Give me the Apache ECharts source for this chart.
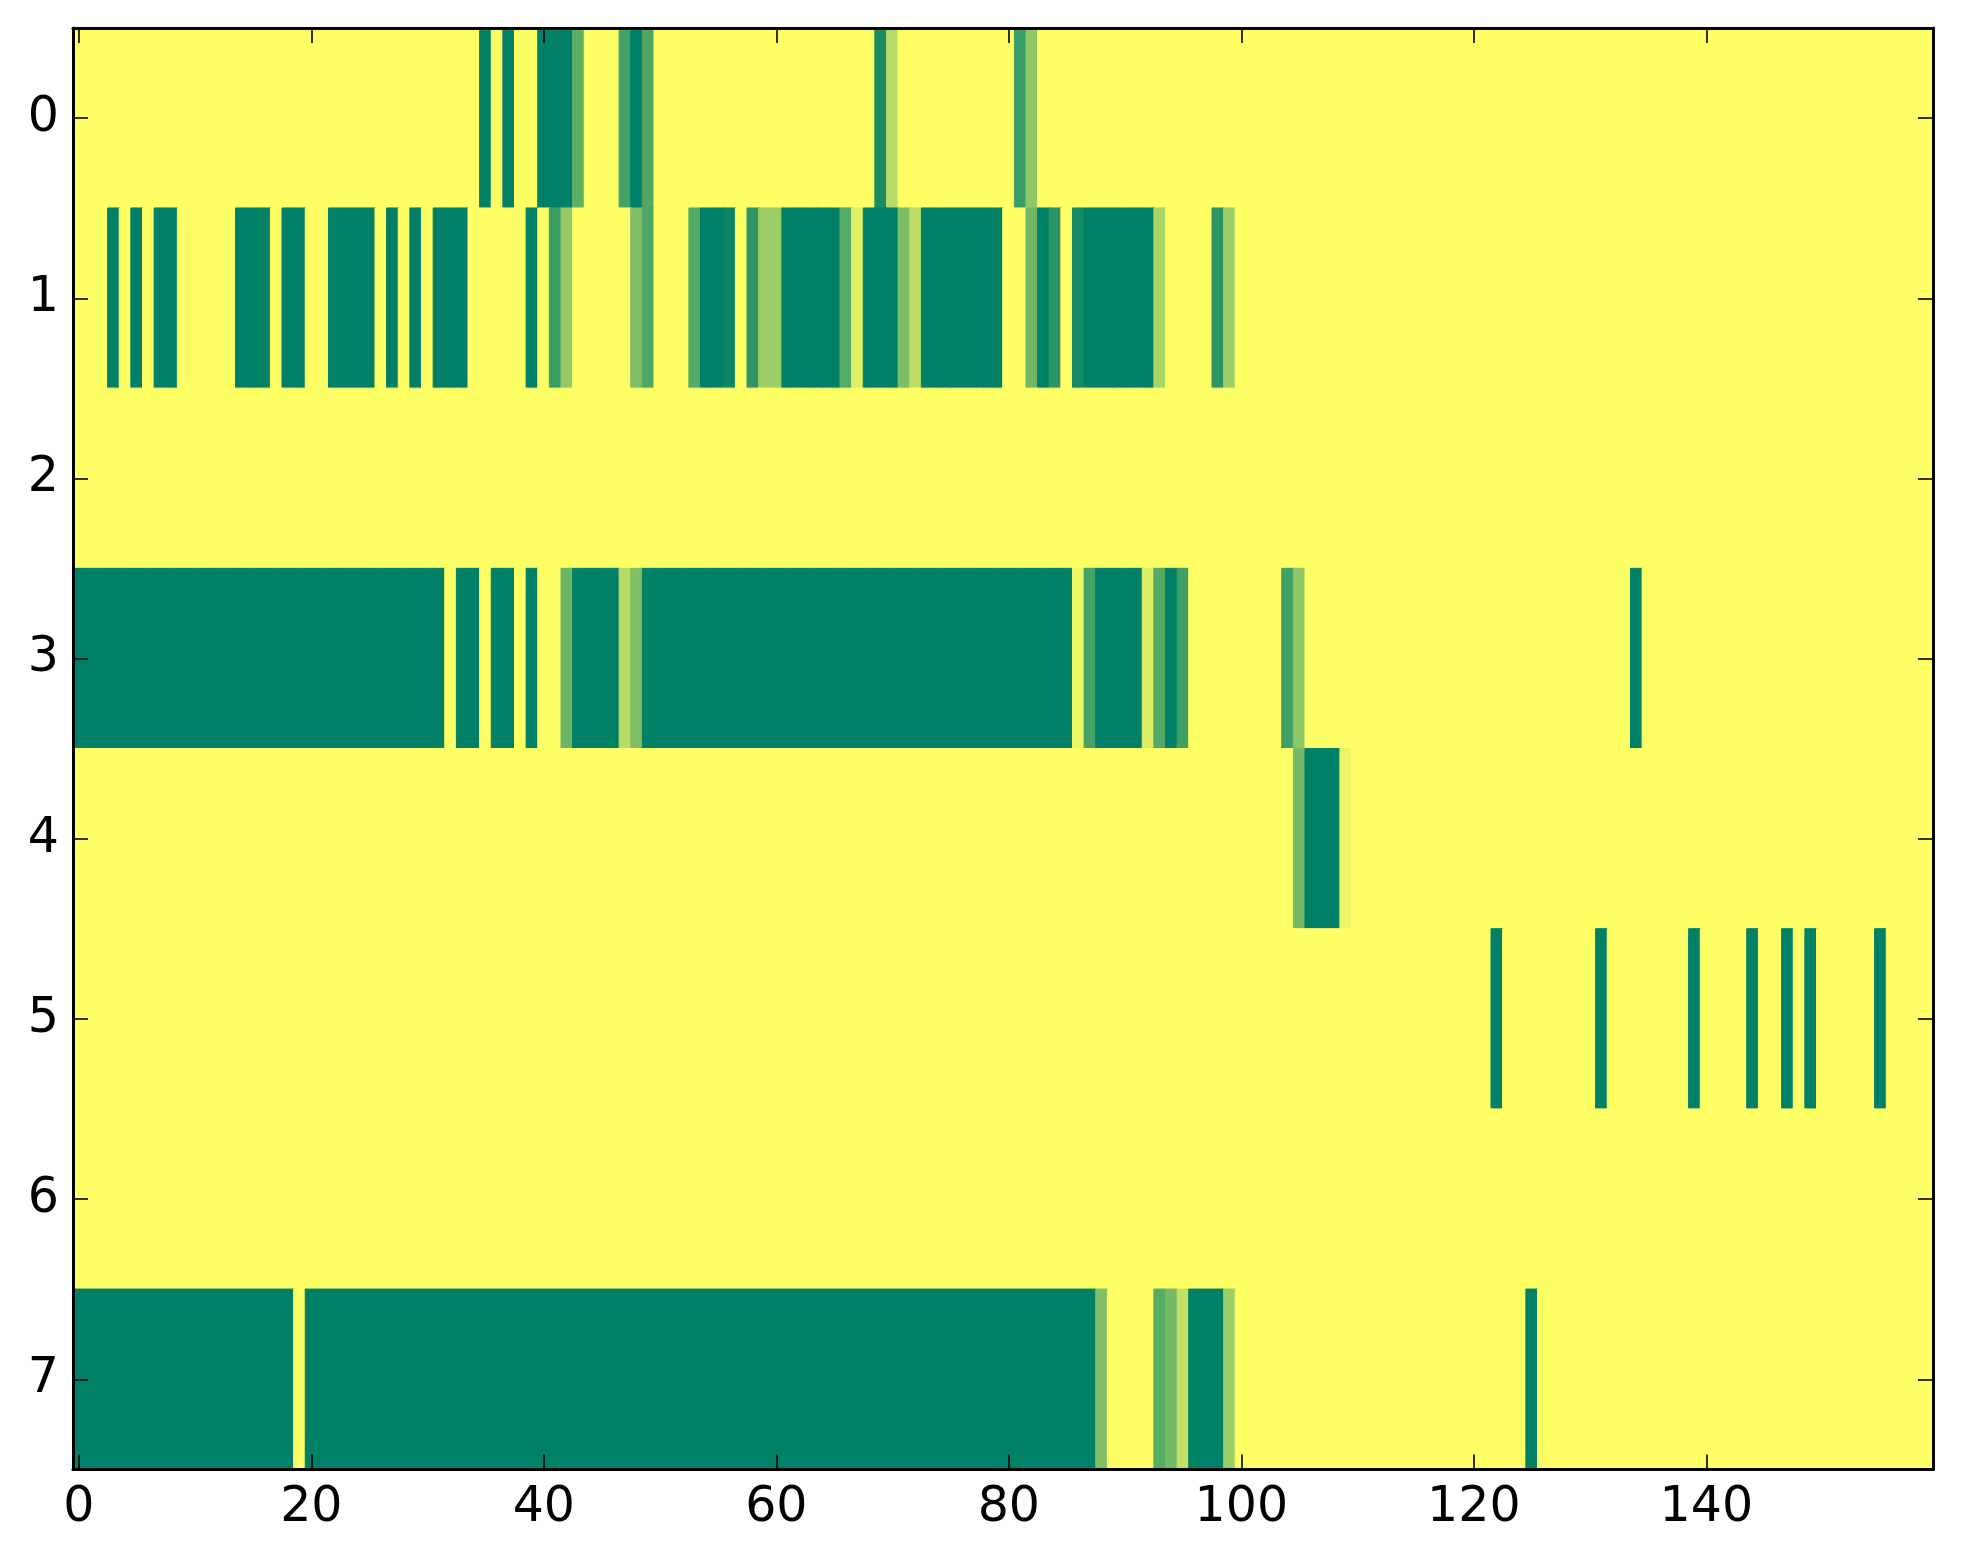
<!DOCTYPE html>
<html>
<head>
<meta charset="utf-8">
<script src="https://cdn.jsdelivr.net/npm/echarts@6/dist/echarts.min.js"></script>
<style>
html,body{margin:0;padding:0;background:#fff;}
#chart{width:1963px;height:1564px;}
</style>
</head>
<body>
<div id="chart"></div>
<script>
// Grid size
const nCols = 160;
const rowLabels = ['0','1','2','3','4','5','6','7'];
const xTickLabels = [0, 20, 40, 60, 80, 100, 120, 140];

// Non-zero runs per row: [startCol, endCol, value]; all other cells are 0
const row0 = [[35,35,1],[37,37,1],[40,42,1],[43,43,0.63],[47,47,0.73],[48,48,1],[49,49,0.69],[69,69,0.9],[70,70,0.29],[81,81,0.77],[82,82,0.44]];
const row1 = [[3,3,1],[5,5,1],[7,8,1],[14,16,1],[18,19,1],[22,25,1],[27,27,1],[29,29,1],[31,33,1],[39,39,1],[41,41,0.77],[42,42,0.42],[48,48,0.5],[49,49,0.69],[53,53,0.67],[54,55,1],[56,56,0.96],[58,58,0.82],[59,60,0.39],[61,65,1],[66,66,0.67],[67,67,0.12],[68,70,1],[71,71,0.51],[72,72,0.26],[73,79,1],[82,82,0.56],[83,83,1],[84,84,0.84],[86,86,0.92],[87,92,1],[93,93,0.34],[98,98,0.82],[99,99,0.39]];
const row2 = [];
const row3 = [[0,31,1],[33,34,1],[36,37,1],[39,39,1],[42,42,0.58],[43,46,1],[47,47,0.28],[48,48,0.5],[49,85,1],[86,86,0.07],[87,87,0.73],[88,91,1],[92,92,0.12],[93,93,0.67],[94,94,1],[95,95,0.75],[104,104,0.75],[105,105,0.45],[134,134,1]];
const row4 = [[105,105,0.55],[106,108,1],[109,109,0.08]];
const row5 = [[122,122,1],[131,131,1],[139,139,1],[144,144,1],[147,147,1],[149,149,1],[155,155,1]];
const row6 = [];
const row7 = [[0,18,1],[20,87,1],[88,88,0.5],[93,93,0.65],[94,94,0.55],[95,95,0.24],[96,98,1],[99,99,0.39],[125,125,1]];

const rows = [row0,row1,row2,row3,row4,row5,row6,row7];

// summer_r colormap: 0 -> #ffff66, 1 -> #008066
function cmap(v) {
  const t = 1 - v;
  const r = Math.round(255 * t), g = Math.round(255 * (0.5 + 0.5 * t)), b = 102;
  return 'rgb(' + r + ',' + g + ',' + b + ')';
}

const xCats = [];
for (let c = 0; c < nCols; c++) xCats.push(String(c));

const cells = [];
rows.forEach((runs, r) => {
  const vals = new Array(nCols).fill(0);
  runs.forEach(([s, e, v]) => { for (let c = s; c <= e; c++) vals[c] = v; });
  vals.forEach((v, c) => {
    const col = cmap(v);
    cells.push({value:[c, r, v], itemStyle:{color:col, borderColor:col, borderWidth:1}});
  });
});

const showX = (i) => xTickLabels.indexOf(i) !== -1;
const font = 'DejaVu Sans';
const lineStyle = {color:'#000', width:3};
const tickStyle = {color:'#000', width:1.6};

const chart = echarts.init(document.getElementById('chart'), null, {renderer:'canvas'});
chart.setOption({
  animation:false,
  backgroundColor:'#ffffff',
  grid:{left:73, right:30, top:28, bottom:94.5, containLabel:false},
  xAxis:[
    {type:'category', data:xCats, position:'bottom', boundaryGap:true, z:10,
     axisLine:{show:true, lineStyle:lineStyle},
     axisTick:{show:true, inside:true, length:15, alignWithLabel:true, interval:(i)=>showX(i), lineStyle:tickStyle},
     axisLabel:{show:true, interval:(i)=>showX(i), fontSize:49, fontFamily:font, color:'#000', margin:14},
     splitLine:{show:false}},
    {type:'category', data:xCats, position:'top', boundaryGap:true, z:10,
     axisLine:{show:true, lineStyle:lineStyle},
     axisTick:{show:true, inside:true, length:15, alignWithLabel:true, interval:(i)=>showX(i), lineStyle:tickStyle},
     axisLabel:{show:false}, splitLine:{show:false}}
  ],
  yAxis:[
    {type:'category', data:rowLabels, position:'left', inverse:true, boundaryGap:true, z:10,
     axisLine:{show:true, lineStyle:lineStyle},
     axisTick:{show:true, inside:true, length:15, alignWithLabel:true, interval:0, lineStyle:tickStyle},
     axisLabel:{show:true, fontSize:49, fontFamily:font, color:'#000', margin:14},
     splitLine:{show:false}},
    {type:'category', data:rowLabels, position:'right', inverse:true, boundaryGap:true, z:10,
     axisLine:{show:true, lineStyle:lineStyle},
     axisTick:{show:true, inside:true, length:15, alignWithLabel:true, interval:0, lineStyle:tickStyle},
     axisLabel:{show:false}, splitLine:{show:false}}
  ],
  series:[{
    type:'heatmap', xAxisIndex:0, yAxisIndex:0, data:cells,
    emphasis:{disabled:true}, progressive:0
  }]
});
</script>
</body>
</html>
